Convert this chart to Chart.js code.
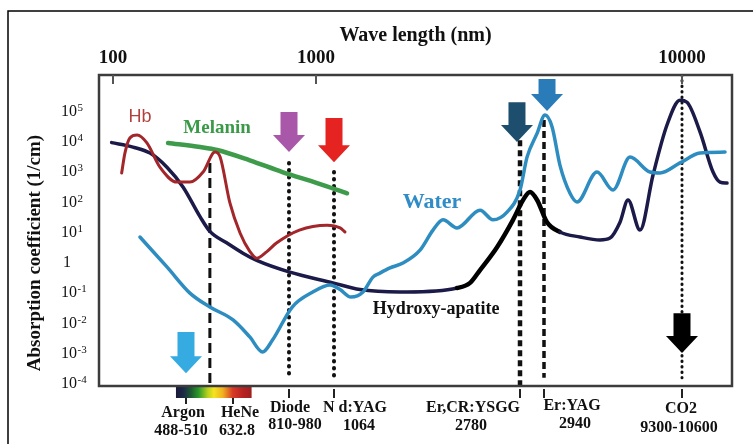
<!DOCTYPE html>
<html><head><meta charset="utf-8">
<script src="https://cdn.jsdelivr.net/npm/chart.js@4.4.0/dist/chart.umd.min.js"></script>
<style>html,body{margin:0;padding:0;background:#fff}canvas{display:block}</style>
</head><body>
<canvas id="c" width="753" height="444"></canvas>
<script>
// ===== DATA =====
const topTicks = [100, 1000, 10000];
const yTicks = [1e-4, 1e-3, 1e-2, 1e-1, 1, 1e1, 1e2, 1e3, 1e4, 1e5];

const hbNm  = [121, 130, 145, 170, 211, 281, 409, 509, 544, 578, 593, 623, 661, 702, 733, 779, 828, 934, 1039, 1098, 1126];
const hbVal = [840, 3800, 12000, 15000, 8200, 1300, 420, 420, 900, 4100, 2800, 86, 8.8, 2.2, 1.3, 2.1, 4.1, 11, 16, 13, 9.5];

const melNm  = [336, 536, 584, 702, 859, 1004, 1138];
const melVal = [8200, 6000, 4800, 2200, 900, 390, 180];

const waterNm  = [181, 328, 509, 563, 633, 702, 760, 808, 907, 987, 1050, 1098, 1161, 1236, 1301, 1349, 1421, 1519, 1659, 1774, 1868, 2008, 2262, 2418, 2600, 2780, 2826, 2893, 2967, 3157, 3388, 3703, 3940, 4705, 5423, 6305, 7529, 8228, 9824, 11733, 14647];
const waterVal = [6.5, 0.67, 0.092, 0.032, 0.012, 0.0033, 0.00105, 0.0026, 0.032, 0.10, 0.17, 0.12, 0.068, 0.10, 0.31, 0.42, 0.62, 0.90, 2.4, 11, 24, 13, 50, 24, 43, 230, 2800, 17000, 68000, 28000, 1500, 180, 93, 900, 230, 2800, 900, 840, 1800, 3800, 4100];

const hapNm  = [97, 155, 226, 328, 467, 536, 563, 614, 673, 733, 895, 1060, 1217, 1496, 1551, 2008, 2148, 2262, 2469, 2682, 2800, 2846, 2893, 3020, 3388, 4046, 4831, 5280, 5770, 6194, 6890, 7733, 8752, 9824, 10454, 11733, 13169, 14011, 14910];
const hapVal = [8400, 6000, 3800, 1300, 290, 30, 10, 4.1, 1.9, 1.1, 0.46, 0.20, 0.12, 0.10, 0.10, 0.135, 0.20, 0.53, 3.0, 24, 108, 198, 108, 20, 9.5, 6.5, 5.2, 6.0, 20, 108, 11, 720, 32000, 210000, 180000, 19000, 900, 420, 390];

// laser lines
const vlineNm     = [563, 895, 1064, 2780, 2940, 10000];
const vlineTop    = [1800, 1800, 900, 10000, 47000, 1.42e6];
const vlineBottom = [7.96e-5, 1.6e-4, 1.6e-4, 7.96e-5, 1.5e-4, 1.5e-4];

// bottom laser labels
const laserNames  = ['Argon', 'HeNe', 'Diode', 'N d:YAG', 'Er,CR:YSGG', 'Er:YAG', 'CO2'];
const laserRanges = ['488-510', '632.8', '810-980', '1064', '2780', '2940', '9300-10600'];
const laserNm     = [499, 632.8, 895, 1064, 2780, 2940, 10000];

// arrows
const arrowNm  = [895, 1064, 2737, 3020, 499, 10000];
const arrowTop = [8.6e4, 5.5e4, 1.8e5, 1.05e6, 4.8e-3, 2.0e-2];
const arrowTip = [4.1e3, 1.9e3, 8.8e3, 9.3e4, 2.1e-4, 9.7e-4];

// curve labels
const curveLabels   = ['Hb', 'Melanin', 'Water', 'Hydroxy-apatite'];
const curveLabelNm  = [181, 584, 1765, 1802];
const curveLabelVal = [5.9e4, 2.6e4, 93, 0.0275];

// visible band drawn under axis
const visibleBand = [400, 710];

// ===== STYLE =====
const SERIF = '"Liberation Serif", "Times New Roman", serif';
const SANS = '"Liberation Sans", Arial, sans-serif';
const arrowColor = ['#a957a8', '#e52421', '#1d4e6e', '#2a7cb9', '#35abe2', '#000000'];
const vlineStyle = [
  {w: 3, dash: [10, 5], cap: 'butt'},
  {w: 4, dash: [0.5, 6.5], cap: 'round'},
  {w: 4, dash: [0.5, 6.5], cap: 'round'},
  {w: 4.5, dash: [6, 4], cap: 'butt'},
  {w: 3.5, dash: [7, 4], cap: 'butt'},
  {w: 3, dash: [0.5, 5], cap: 'round'}
];
const labelDx1 = [-3, 7, 1, 21, -47, 28, -1];
const labelDx2 = [-5, 4, 6, 25, -49, 31, -3];
const labelDy1 = [27, 27, 22, 22, 22, 20, 23];
const labelDy2 = [45, 45, 39, 40, 40, 38, 42];
const tickBelowBar = [true, true, false, false, false, false, false];
const curveLabelStyle = [
  {font: '18px ' + SANS, color: '#b0413e'},
  {font: 'bold 19px ' + SERIF, color: '#3a9a48'},
  {font: 'bold 22px ' + SERIF, color: '#2f8cc6'},
  {font: 'bold 18px ' + SERIF, color: '#111111'}
];

// ===== custom warped wavelength scale (piecewise log, as drawn in the source figure) =====
const X_ANCHORS = [[100, 0.02212], [499, 0.13744], [632.8, 0.21169], [895, 0.30016], [1000, 0.34281], [1064, 0.37125], [2780, 0.66509], [2940, 0.70300], [10000, 0.92101]];
function warpDec(v) {
  const A = X_ANCHORS, lv = Math.log10(v);
  let i = 0;
  while (i < A.length - 2 && lv > Math.log10(A[i + 1][0])) i++;
  const l0 = Math.log10(A[i][0]), l1 = Math.log10(A[i + 1][0]);
  return A[i][1] + (lv - l0) * (A[i + 1][1] - A[i][1]) / (l1 - l0);
}
function unwarp(d) {
  const A = X_ANCHORS;
  let i = 0;
  while (i < A.length - 2 && d > A[i + 1][1]) i++;
  const l0 = Math.log10(A[i][0]), l1 = Math.log10(A[i + 1][0]);
  return Math.pow(10, l0 + (d - A[i][1]) * (l1 - l0) / (A[i + 1][1] - A[i][1]));
}
class WarpScale extends Chart.Scale {
  determineDataLimits() { this.min = this.options.min; this.max = this.options.max; }
  buildTicks() { return []; }
  getLabelForValue(v) { return String(v); }
  getPixelForValue(v) { return this.getPixelForDecimal(warpDec(v)); }
  getValueForPixel(p) { return unwarp(this.getDecimalForPixel(p)); }
}
WarpScale.id = 'warp';
WarpScale.defaults = {};
Chart.register(WarpScale);

// ===== datasets =====
function pts(xs, ys) { return xs.map((x, i) => ({x: x, y: ys[i]})); }
const curveCommon = {pointRadius: 0, fill: false, cubicInterpolationMode: 'monotone', borderCapStyle: 'round', borderJoinStyle: 'round'};
const datasets = [
  Object.assign({label: 'Hb', data: pts(hbNm, hbVal), borderColor: '#a3262a', borderWidth: 3}, curveCommon),
  Object.assign({label: 'Melanin', data: pts(melNm, melVal), borderColor: '#3d9b4a', borderWidth: 4.5}, curveCommon),
  Object.assign({label: 'Water', data: pts(waterNm, waterVal), borderColor: '#2e8dc0', borderWidth: 3.5}, curveCommon),
  Object.assign({label: 'Hydroxy-apatite', data: pts(hapNm, hapVal), borderColor: '#1b1a48', borderWidth: 3.5,
    segment: {
      borderColor: c => (c.p0.parsed.x >= 2008 && c.p1.parsed.x <= 3388) ? '#000000' : '#1b1a48',
      borderWidth: c => (c.p0.parsed.x >= 2008 && c.p1.parsed.x <= 3388) ? 4.5 : 3.5
    }}, curveCommon)
];
vlineNm.forEach((nm, i) => {
  datasets.push({
    label: 'line' + i,
    data: [{x: nm, y: vlineTop[i]}, {x: nm, y: vlineBottom[i]}],
    borderColor: '#111111', borderWidth: vlineStyle[i].w, borderDash: vlineStyle[i].dash,
    borderCapStyle: vlineStyle[i].cap, pointRadius: 0, tension: 0, fill: false
  });
});

// ===== decorations plugin =====
const decor = {
  id: 'decor',
  beforeDraw(c) {
    const g = c.ctx; g.save(); g.fillStyle = '#fff'; g.fillRect(0, 0, c.width, c.height); g.restore();
  },
  afterDraw(c) {
    const g = c.ctx, a = c.chartArea, xs = c.scales.x, ys = c.scales.y;
    g.save();
    // outer border
    g.strokeStyle = '#000'; g.lineWidth = 1.5; g.setLineDash([]);
    g.beginPath(); g.moveTo(8, c.height + 2); g.lineTo(8, 11); g.lineTo(c.width + 2, 11); g.stroke();

    // visible spectrum bar
    const bx0 = xs.getPixelForValue(visibleBand[0]), bx1 = xs.getPixelForValue(visibleBand[1]);
    const gr = g.createLinearGradient(bx0, 0, bx1, 0);
    [[0, '#1c1838'], [0.1, '#1a2a48'], [0.2, '#1d5a30'], [0.3, '#2a9a2a'], [0.42, '#b8d020'], [0.5, '#f4e41e'],
     [0.62, '#f0b020'], [0.75, '#d83a24'], [0.88, '#b82222'], [1, '#a01e1e']].forEach(s => gr.addColorStop(s[0], s[1]));
    g.fillStyle = gr; g.fillRect(bx0, a.bottom + 1, bx1 - bx0, 11);

    // plot frame
    g.strokeStyle = '#3c3c3c'; g.lineWidth = 2.5;
    g.strokeRect(a.left, a.top, a.right - a.left, a.bottom - a.top);

    // top inner tick marks
    g.strokeStyle = '#555'; g.lineWidth = 2;
    xs.ticks.forEach(t => { const px = xs.getPixelForValue(t.value); g.beginPath(); g.moveTo(px, a.top); g.lineTo(px, a.top + 9); g.stroke(); });

    // bottom laser tick marks + labels
    g.strokeStyle = '#222'; g.lineWidth = 2;
    g.fillStyle = '#111'; g.font = 'bold 16px ' + SERIF; g.textAlign = 'center'; g.textBaseline = 'middle';
    laserNm.forEach((nm, i) => {
      const px = xs.getPixelForValue(nm);
      const y0 = tickBelowBar[i] ? a.bottom + 12 : a.bottom + 3;
      const y1 = tickBelowBar[i] ? a.bottom + 18 : a.bottom + 12;
      g.beginPath(); g.moveTo(px, y0); g.lineTo(px, y1); g.stroke();
      g.fillText(laserNames[i], px + labelDx1[i], a.bottom + labelDy1[i]);
      g.fillText(laserRanges[i], px + labelDx2[i], a.bottom + labelDy2[i]);
    });

    // y tick labels (10^n)
    g.fillStyle = '#111'; g.textAlign = 'left'; g.textBaseline = 'alphabetic';
    ys.ticks.forEach(t => {
      const e = Math.round(Math.log10(t.value));
      const py = ys.getPixelForValue(t.value);
      g.font = '16px ' + SERIF;
      if (e === 0) { g.fillText('1', 63, py + 5.5); return; }
      g.fillText('10', 61, py + 5.5);
      const w = g.measureText('10').width;
      g.font = '11px ' + SERIF;
      g.fillText(String(e), 61 + w + 0.5, py + 0.5);
    });

    // y axis title
    g.save();
    g.translate(35, 253); g.rotate(-Math.PI / 2);
    g.font = 'bold 19px ' + SERIF; g.textAlign = 'center'; g.textBaseline = 'middle'; g.fillStyle = '#111';
    g.fillText('Absorption coefficient (1/cm)', 0, 0);
    g.restore();

    // curve labels
    g.textAlign = 'center'; g.textBaseline = 'middle';
    curveLabels.forEach((t, i) => {
      g.font = curveLabelStyle[i].font; g.fillStyle = curveLabelStyle[i].color;
      g.fillText(t, xs.getPixelForValue(curveLabelNm[i]), ys.getPixelForValue(curveLabelVal[i]));
    });

    // arrows
    arrowNm.forEach((nm, i) => {
      const x = xs.getPixelForValue(nm), yt = ys.getPixelForValue(arrowTop[i]), yp = ys.getPixelForValue(arrowTip[i]);
      const sw = 8.5, hw = 16, hl = 17;
      g.fillStyle = arrowColor[i];
      g.beginPath();
      g.moveTo(x - sw, yt); g.lineTo(x + sw, yt); g.lineTo(x + sw, yp - hl); g.lineTo(x + hw, yp - hl);
      g.lineTo(x, yp); g.lineTo(x - hw, yp - hl); g.lineTo(x - sw, yp - hl); g.closePath(); g.fill();
    });
    g.restore();
  }
};

new Chart(document.getElementById('c').getContext('2d'), {
  type: 'line',
  data: {datasets: datasets},
  options: {
    responsive: false, animation: false, devicePixelRatio: 1,
    layout: {padding: {left: 0, right: 21, top: 0, bottom: 0}},
    plugins: {legend: {display: false}, tooltip: {enabled: false}},
    elements: {point: {radius: 0}},
    scales: {
      x: {
        type: 'warp', position: 'top', min: 76.8, max: 15580,
        afterBuildTicks: s => { s.ticks = topTicks.map(v => ({value: v})); },
        ticks: {autoSkip: false, maxRotation: 0, minRotation: 0, padding: -2, color: '#111',
          font: {family: SERIF, size: 19, weight: 'bold'}, callback: v => String(v)},
        grid: {display: false}, border: {display: false},
        title: {display: true, text: 'Wave length (nm)', color: '#111',
          font: {family: SERIF, size: 20, weight: 'bold'}, padding: {top: 24, bottom: 0}},
        afterFit: s => { s.height = 75; }
      },
      x2: {
        type: 'warp', position: 'bottom', min: 76.8, max: 15580,
        afterBuildTicks: s => { s.ticks = laserNm.map(v => ({value: v})); },
        ticks: {display: false}, grid: {display: false}, border: {display: false},
        afterFit: s => { s.height = 58; }
      },
      y: {
        type: 'logarithmic', position: 'left', min: 7.96e-5, max: 1.426e6,
        afterBuildTicks: s => { s.ticks = yTicks.map(v => ({value: v})); },
        ticks: {display: false}, grid: {display: false}, border: {display: false},
        afterFit: s => { s.width = 99; }
      }
    }
  },
  plugins: [decor]
});
</script>
</body></html>
